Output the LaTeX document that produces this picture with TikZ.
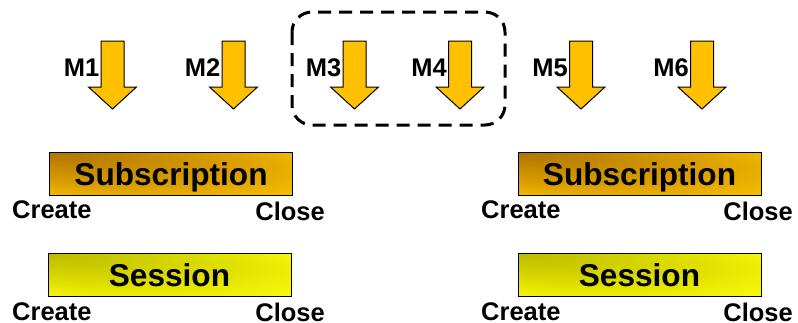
\documentclass[tikz,border=0pt]{standalone}
\usepackage{fontspec}
\setmainfont{Liberation Sans}
\definecolor{gold}{HTML}{FFC000}
\definecolor{subdark}{HTML}{B07600}
\definecolor{submid}{HTML}{DCA000}
\definecolor{sublight}{HTML}{FAC400}
\definecolor{sesdark}{HTML}{BCBC00}
\definecolor{sesmid}{HTML}{E2E200}
\definecolor{seslight}{HTML}{FFFF10}
\pgfdeclareradialshading{subshade}{\pgfpoint{-25bp}{25bp}}{color(0bp)=(subdark); color(24bp)=(submid); color(40bp)=(sublight)}
\pgfdeclareradialshading{sesshade}{\pgfpoint{-25bp}{25bp}}{color(0bp)=(sesdark); color(24bp)=(sesmid); color(40bp)=(seslight)}
\begin{document}
\begin{tikzpicture}[x=1pt,y=-1pt,
  lbl/.style={font=\bfseries\fontsize{25.5}{25.5}\selectfont, inner sep=0pt},
  ttl/.style={font=\bfseries\fontsize{31.6}{31.6}\selectfont, inner sep=0pt},
  blockarrow/.style={fill=gold, draw=black, line width=1pt, line join=miter},
  box/.style={draw=black, line width=1.3pt, minimum width=243pt, minimum height=43pt, inner sep=0pt, anchor=north west},
  subbox/.style={box, shading=subshade},
  sesbox/.style={box, shading=sesshade},
  grpbox/.style={draw=black, line width=3pt, dash pattern=on 13pt off 8pt, rounded corners=20pt}
]
\useasboundingbox (0,0) rectangle (798,322);

% labelled down arrows
\foreach \c/\t/\n in {112.5/M1/1, 233.5/M2/2, 354.5/M3/3, 460/M4/4, 581/M5/5, 702/M6/6}{
  \node[lbl, anchor=base east] (m\n) at ({\c-13},76) {\t};
  \path[blockarrow] ({\c-11.5},41) -- ({\c+11.5},41) -- ({\c+11.5},87) -- ({\c+24},87)
     -- (\c,109) -- ({\c-24},87) -- ({\c-11.5},87) -- cycle;
}

% dashed group around M3, M4
\draw[grpbox] (292,12) rectangle (505,125);

% left column
\node[subbox] (sub1) at (49,152) {};
\node[ttl, anchor=base] (sub1t) at (171,185) {Subscription};
\node[lbl, anchor=base west] (sub1c) at (12,218) {Create};
\node[lbl, anchor=base east] (sub1x) at (325,220) {Close};

\node[sesbox] (ses1) at (48,253) {};
\node[ttl, anchor=base] (ses1t) at (169.5,286) {Session};
\node[lbl, anchor=base west] (ses1c) at (12,320) {Create};
\node[lbl, anchor=base east] (ses1x) at (325,321) {Close};

% right column
\node[subbox] (sub2) at (518,152) {};
\node[ttl, anchor=base] (sub2t) at (639.5,185) {Subscription};
\node[lbl, anchor=base west] (sub2c) at (481,218) {Create};
\node[lbl, anchor=base east] (sub2x) at (793,220) {Close};

\node[sesbox] (ses2) at (518,253) {};
\node[ttl, anchor=base] (ses2t) at (639.5,286) {Session};
\node[lbl, anchor=base west] (ses2c) at (481,320) {Create};
\node[lbl, anchor=base east] (ses2x) at (793,321) {Close};
\end{tikzpicture}
\end{document}
